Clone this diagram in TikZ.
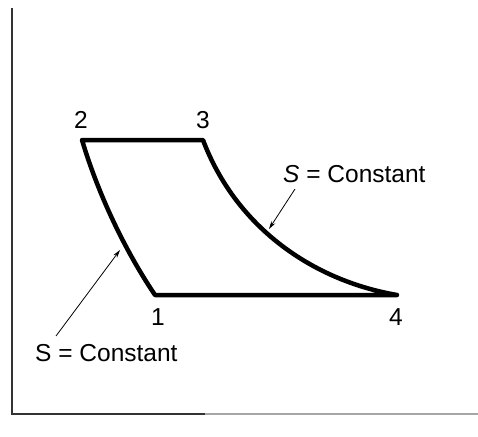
\documentclass[tikz,border=0pt]{standalone}
\usepackage{fontspec}
\setmainfont{Liberation Sans}
\usetikzlibrary{arrows.meta}
\begin{document}
\begin{tikzpicture}[x=1pt,y=-1pt,
  cyc/.style={line width=4.5pt, line join=round, line cap=round},
  axis/.style={line width=1.6pt, draw=black!80},
  lbl/.style={font=\fontsize{24.5}{27}\selectfont, inner sep=0pt},
  ptr/.style={line width=0.8pt, -{Stealth[length=8pt,width=4.5pt]}}]
\useasboundingbox (0,0) rectangle (478,436);
\fill[white] (0,0) rectangle (478,436);
% axes
\coordinate (top) at (12,8);
\coordinate (org) at (12,414);
\coordinate (xe1) at (205,414);
\coordinate (xe2) at (478,414);
\draw[axis] (top) -- (org) -- (xe1);
\draw[line width=1.6pt, draw=black!35] (xe1) -- (xe2);
% states
\coordinate (p1) at (155,295);
\coordinate (p2) at (82,140);
\coordinate (p3) at (203,140);
\coordinate (p4) at (397,295);
\draw[cyc] (p1) .. controls (128,255) and (100,200) .. (p2) -- (p3)
  .. controls (235,225) and (310,280) .. (p4) -- cycle;
% labels
\node[lbl] (n2) at (81,120) {2};
\node[lbl] (n3) at (203,120) {3};
\node[lbl] (n1) at (158,317) {1};
\node[lbl] (n4) at (396,317) {4};
\node[lbl, anchor=west] (sup) at (283,174) {\textit{S} = Constant};
\node[lbl, anchor=west] (slo) at (35,353) {S = Constant};
\coordinate (a1) at (120,250);
\coordinate (a2) at (269,229);
\draw[ptr] (56,336) -- (a1);
\draw[ptr] (295,189) -- (a2);
\end{tikzpicture}
\end{document}
